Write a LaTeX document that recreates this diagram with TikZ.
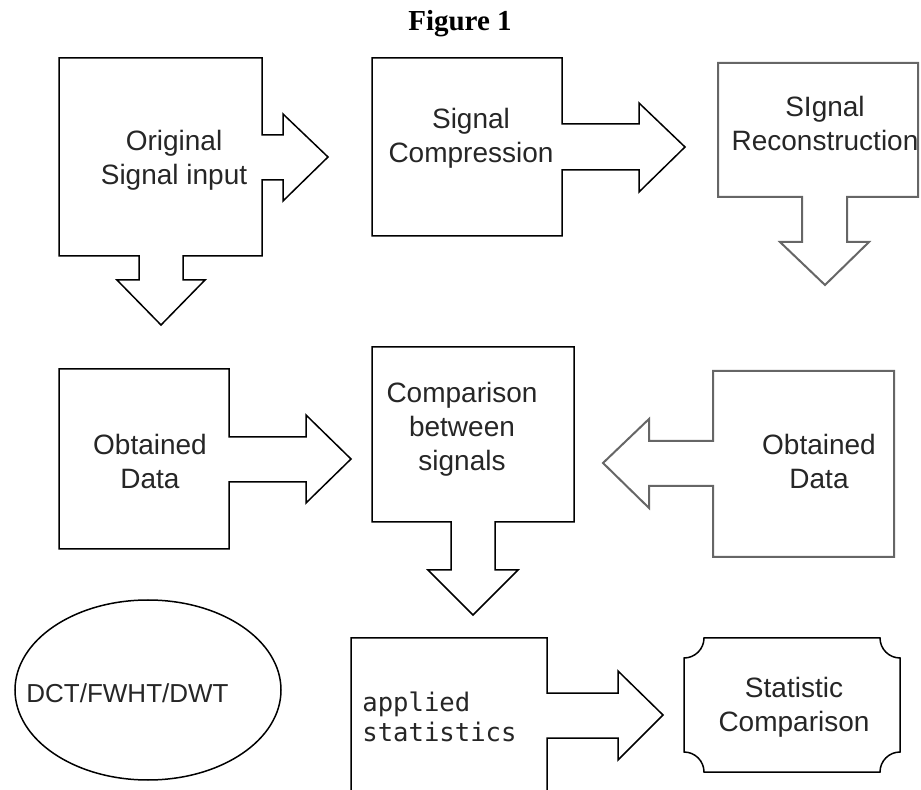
\documentclass[tikz,border=0pt]{standalone}
\usepackage{fontspec}
\setmainfont{Liberation Serif}
\setsansfont{Liberation Sans}
\setmonofont{DejaVu Sans Mono}
\usepackage{tikz}

\tikzset{
  shp/.style={draw,line width=0.75pt,line join=miter},
  shpgray/.style={shp,draw=black!60,line width=1pt},
  lbl/.style={font=\sffamily\fontsize{14}{17}\selectfont,align=center,text=black!85,inner sep=0pt},
}

\begin{document}
\begin{tikzpicture}[x=0.5pt,y=-0.5pt]
    \useasboundingbox (0,0) rectangle (921,790);
    \node[font=\rmfamily\bfseries\fontsize{14.5}{17}\selectfont] (title) at (460,24) {Figure 1};
    % first row
    \draw[shp] (59,58) -- (262,58) -- (262,135) -- (283,135) -- (283,114) -- (328,157) -- (283,201) -- (283,180) -- (262,180) -- (262,256) -- (183,256) -- (183,280) -- (205,280) -- (161,325) -- (117,280) -- (139,280) -- (139,256) -- (59,256) -- cycle;
    \node[lbl] (orig) at (174,160) {Original\\Signal input};
    \draw[shp] (372,58) -- (562,58) -- (562,124) -- (639,124) -- (639,103) -- (685,147) -- (639,192) -- (639,170) -- (562,170) -- (562,236) -- (372,236) -- cycle;
    \node[lbl] (compress) at (471,138) {Signal\\Compression};
    \draw[shpgray] (718,63) -- (918,63) -- (918,197) -- (847,197) -- (847,242) -- (869,242) -- (825,285) -- (780,242) -- (802,242) -- (802,197) -- (718,197) -- cycle;
    \node[lbl] (recon) at (825,123) {SIgnal\\Reconstruction};
    % second row
    \draw[shp] (59,369) -- (229,369) -- (229,437) -- (306,437) -- (306,415) -- (351,459) -- (306,503) -- (306,482) -- (229,482) -- (229,549) -- (59,549) -- cycle;
    \node[lbl] (dataL) at (150,461) {Obtained\\Data};
    \draw[shp] (372,347) -- (574,347) -- (574,522) -- (495,522) -- (495,570) -- (518,570) -- (473,615) -- (428,570) -- (451,570) -- (451,522) -- (372,522) -- cycle;
    \node[lbl] (compare) at (462,429) {Comparison\\between\\signals};
    \draw[shpgray] (713,371) -- (894,371) -- (894,557) -- (713,557) -- (713,486) -- (649,486) -- (649,508) -- (603,463) -- (649,419) -- (649,441) -- (713,441) -- cycle;
    \node[lbl] (dataR) at (819,461) {Obtained\\Data};
    % third row
    \draw[shp] (148,690) ellipse (133 and 90);
    \node[lbl,font=\sffamily\fontsize{13}{16}\selectfont,anchor=west] (trans) at (26,693) {DCT/FWHT/DWT};
    \draw[shp] (351,795) -- (351,638) -- (547,638) -- (547,693) -- (618,693) -- (618,671) -- (663,715) -- (618,760) -- (618,738) -- (547,738) -- (547,795);
    \node[lbl,font=\ttfamily\fontsize{12.8}{15}\selectfont,align=left,anchor=west] (stats) at (362,717) {applied\\statistics};
    \draw[shp] (704,638) -- (880,638) .. controls (880,649) and (889,658) .. (900,658) -- (900,752) .. controls (889,752) and (880,761) .. (880,772) -- (704,772) .. controls (704,761) and (695,752) .. (684,752) -- (684,658) .. controls (695,658) and (704,649) .. (704,638) -- cycle;
    \node[lbl] (statcomp) at (794,707) {Statistic\\Comparison};
\end{tikzpicture}
\end{document}
